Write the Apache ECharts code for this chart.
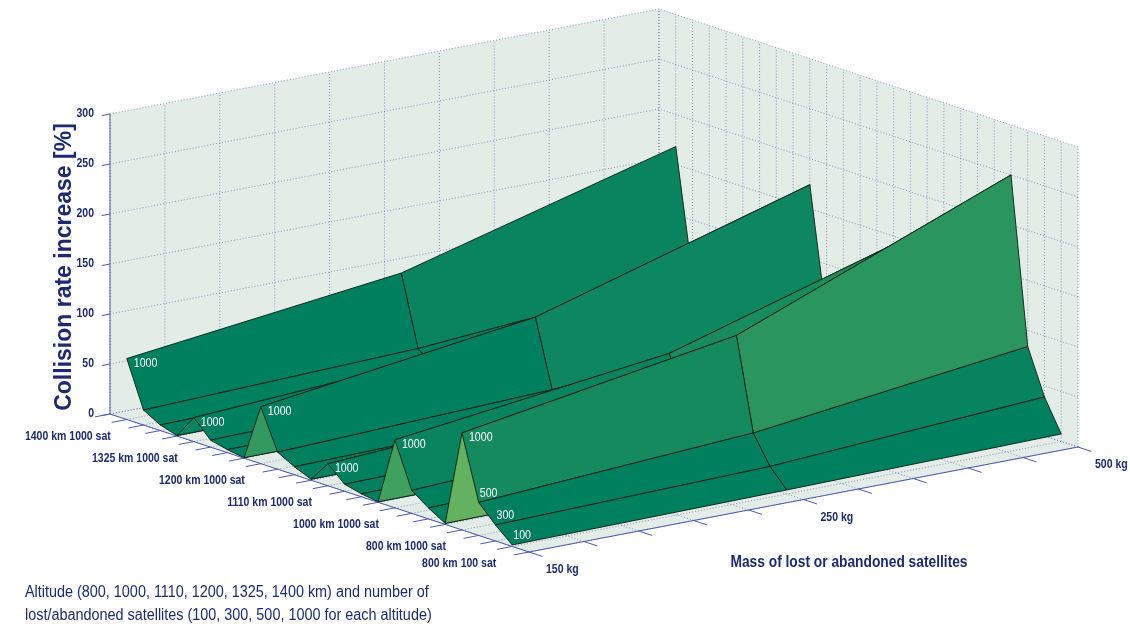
<!DOCTYPE html>
<html>
<head>
<meta charset="utf-8">
<script src="https://cdn.jsdelivr.net/npm/echarts@6/dist/echarts.min.js"></script>
<style>
  html, body { margin: 0; padding: 0; background: #fff; }
  #chart { width: 1130px; height: 630px; }
</style>
</head>
<body>
<div id="chart"></div>
<script>
// ---- data ----
var altitudes = [800, 1000, 1110, 1200, 1325, 1400];
var satCounts = [100, 300, 500, 1000];
var massLabels = ['150 kg', '250 kg', '500 kg'];
// collision rate increase [%], one row per satellite count, columns = 150 / 250 / 500 kg
var rate800  = [[1.5, 4, 7.5], [16, 22, 39], [33, 50, 84], [97, 142, 250]];
var rate1000 = [[1, 3, 5], [11, 16, 28], [23, 36, 61], [68, 102, 183]];
var rate1110 = [[0.5, 1, 2], [3, 5, 8], [7, 11, 19], [22, 38, 66]];
var rate1200 = [[1, 2, 4], [8, 13, 24], [17, 27, 46], [57, 94, 174]];
var rate1325 = [[0.5, 1, 2], [3, 5, 9], [7, 12, 21], [24, 40, 70]];
var rate1400 = [[0.5, 2, 4], [5.6, 10, 18], [15, 24, 45], [61, 94, 168]];
var zTicks = [0, 50, 100, 150, 200, 250, 300];
var altTickRows = [0, 3, 7, 11, 15, 19, 23];
var altTickLabels = ['800 km 100 sat', '800 km 1000 sat', '1000 km 1000 sat', '1110 km 1000 sat',
                     '1200 km 1000 sat', '1325 km 1000 sat', '1400 km 1000 sat'];

// ---- surface grid: row k = altitude * 4 + satellite count, column m = mass ----
var rates = [rate800, rate1000, rate1110, rate1200, rate1325, rate1400];
var Z = [];
rates.forEach(function (r) { r.forEach(function (row) { Z.push(row); }); });
var nK = Z.length, nM = massLabels.length;

// box limits
var kLo = -1, kHi = nK, mLo = 0, mHi = nM - 1, zLo = zTicks[0], zHi = zTicks[zTicks.length - 1];

// fixed view (orthographic): screen offset per unit of k, m and z
var view = { x0: 529, y0: 552, kx: -16.76, ky: -5.52, mx: 274.5, my: -52.5, zy: -1 };
function proj(k, m, z) {
    return [view.x0 + (k - kLo) * view.kx + (m - mLo) * view.mx,
            view.y0 + (k - kLo) * view.ky + (m - mLo) * view.my + z * view.zy];
}
function depth(k, m, z) { return 21.3 * k + 202.5 * m - 0.26 * z; }

// summer colormap, colour taken from the first corner of each face
var cLo = 16, cHi = 222;
function summer(v) {
    var t = Math.max(0, Math.min(1, (v - cLo) / (cHi - cLo)));
    return 'rgb(' + Math.round(255 * t) + ',' + Math.round(255 * (0.5 + 0.5 * t)) + ',95)';
}

var navy = '#1d2a72';
var axisBlue = '#4b58ad';
var font = 'Liberation Sans, Arial, sans-serif';

// ---- box walls ----
var walls = [
    [[kLo, mLo, 0], [kHi, mLo, 0], [kHi, mHi, 0], [kLo, mHi, 0]],
    [[kHi, mLo, zLo], [kHi, mHi, zLo], [kHi, mHi, zHi], [kHi, mLo, zHi]],
    [[kLo, mHi, zLo], [kHi, mHi, zLo], [kHi, mHi, zHi], [kLo, mHi, zHi]]
];

// ---- dotted grid ----
var massTicks = [];
for (var t = 0; t <= 10; t++) massTicks.push(mLo + t * (mHi - mLo) / 10);
var gridSegs = [];
for (var k = kLo; k <= kHi; k++) {
    gridSegs.push([[k, mLo, 0], [k, mHi, 0]]);
    gridSegs.push([[k, mHi, zLo], [k, mHi, zHi]]);
}
massTicks.forEach(function (m) {
    gridSegs.push([[kLo, m, 0], [kHi, m, 0]]);
    gridSegs.push([[kHi, m, zLo], [kHi, m, zHi]]);
});
zTicks.forEach(function (z) {
    gridSegs.push([[kHi, mLo, z], [kHi, mHi, z]]);
    gridSegs.push([[kLo, mHi, z], [kHi, mHi, z]]);
});

// ---- axes and ticks ----
var axisSegs = [
    [[kLo, mLo, 0], [kHi, mLo, 0]],
    [[kLo, mLo, 0], [kLo, mHi, 0]],
    [[kHi, mLo, zLo], [kHi, mLo, zHi]]
];
for (var k2 = kLo; k2 <= kHi; k2++) axisSegs.push([[k2, mLo, 0], [k2, mLo - 0.055, 0]]);
massTicks.forEach(function (m) { axisSegs.push([[kLo, m, 0], [kLo - 0.8, m, 0]]); });
zTicks.forEach(function (z) { axisSegs.push([[kHi, mLo, z], [kHi, mLo - 0.03, z]]); });

// ---- tick labels (anchored at the axis point) ----
var tickTexts = [];
altTickRows.forEach(function (k, i) {
    tickTexts.push({ p: [k, mLo, 0], text: altTickLabels[i], align: 'right', dx: -16, dy: 17 });
});
massLabels.forEach(function (s, i) {
    tickTexts.push({ p: [kLo, i, 0], text: s, align: 'left', dx: 17, dy: 18 });
});
zTicks.forEach(function (z) {
    tickTexts.push({ p: [kHi, mLo, z], text: String(z), align: 'right', dx: -16, dy: 0 });
});

// ---- surface faces, far to near ----
var faces = [];
for (var i = 0; i < nK - 1; i++) {
    for (var j = 0; j < nM - 1; j++) {
        var zAvg = (Z[i][j] + Z[i + 1][j] + Z[i][j + 1] + Z[i + 1][j + 1]) / 4;
        faces.push([i, j, depth(i + 0.5, j + 0.5, zAvg)]);
    }
}
faces.sort(function (a, b) { return b[2] - a[2]; });

// ---- value labels on the 150 kg edge ----
var surfTexts = [];
altitudes.forEach(function (a, ai) {
    surfTexts.push({ k: ai * 4 + 3, text: String(satCounts[3]), dx: 7, dy: 5 });
});
[0, 1, 2].forEach(function (s) {
    surfTexts.push({ k: s, text: String(satCounts[s]), dx: 1, dy: -9 });
});

function lineSeries(segs, style) {
    return {
        type: 'custom', coordinateSystem: 'cartesian2d', silent: true, clip: false,
        data: segs.map(function (s, i) { return [i, 0]; }),
        renderItem: function (params, api) {
            var s = segs[params.dataIndex];
            var a = api.coord(proj(s[0][0], s[0][1], s[0][2]));
            var b = api.coord(proj(s[1][0], s[1][1], s[1][2]));
            return { type: 'line', shape: { x1: a[0], y1: a[1], x2: b[0], y2: b[1] }, style: style };
        }
    };
}

var option = {
    animation: false,
    grid: { left: 0, right: 0, top: 0, bottom: 0 },
    xAxis: { type: 'value', min: 0, max: 1130, show: false },
    yAxis: { type: 'value', min: 0, max: 630, inverse: true, show: false },
    graphic: [
        { type: 'text', x: 65, y: 267, rotation: Math.PI / 2,
          style: { text: 'Collision rate increase [%]', fill: navy, align: 'center', verticalAlign: 'middle',
                   font: 'bold 23px ' + font } },
        { type: 'text', x: 849, y: 563, scaleX: 0.86,
          style: { text: 'Mass of lost or abandoned satellites', fill: navy, align: 'center', verticalAlign: 'middle',
                   font: 'bold 16px ' + font } },
        { type: 'text', x: 25, y: 593, scaleX: 0.9,
          style: { text: 'Altitude (' + altitudes.join(', ') + ' km) and number of', fill: navy,
                   align: 'left', verticalAlign: 'middle', font: '16px ' + font } },
        { type: 'text', x: 25, y: 616, scaleX: 0.9,
          style: { text: 'lost/abandoned satellites (' + satCounts.join(', ') + ' for each altitude)', fill: navy,
                   align: 'left', verticalAlign: 'middle', font: '16px ' + font } }
    ],
    series: [
        {
            type: 'custom', coordinateSystem: 'cartesian2d', silent: true, clip: false,
            data: walls.map(function (w, i) { return [i, 0]; }),
            renderItem: function (params, api) {
                var pts = walls[params.dataIndex].map(function (p) { return api.coord(proj(p[0], p[1], p[2])); });
                return { type: 'polygon', shape: { points: pts }, style: { fill: '#e3ece6', stroke: null } };
            }
        },
        lineSeries(gridSegs, { stroke: 'rgba(60,72,160,0.55)', lineWidth: 1, lineDash: [1, 2] }),
        lineSeries(axisSegs, { stroke: axisBlue, lineWidth: 1 }),
        {
            type: 'custom', coordinateSystem: 'cartesian2d', silent: true, clip: false,
            data: tickTexts.map(function (d, i) { return [i, 0]; }),
            renderItem: function (params, api) {
                var d = tickTexts[params.dataIndex];
                var c = api.coord(proj(d.p[0], d.p[1], d.p[2]));
                return { type: 'text', x: c[0] + d.dx, y: c[1] + d.dy, scaleX: 0.84,
                         style: { text: d.text, fill: navy, align: d.align, verticalAlign: 'middle',
                                  font: 'bold 12.5px ' + font } };
            }
        },
        {
            type: 'custom', coordinateSystem: 'cartesian2d', silent: true, clip: false,
            data: faces,
            renderItem: function (params, api) {
                var k = api.value(0), m = api.value(1);
                var pts = [[k, m], [k + 1, m], [k + 1, m + 1], [k, m + 1]].map(function (c) {
                    return api.coord(proj(c[0], c[1], Z[c[0]][c[1]]));
                });
                return { type: 'polygon', shape: { points: pts },
                         style: { fill: summer(Z[k][m]), stroke: '#0a1e12', lineWidth: 0.9, lineJoin: 'round' } };
            }
        },
        {
            type: 'custom', coordinateSystem: 'cartesian2d', silent: true, clip: false,
            data: surfTexts.map(function (d, i) { return [i, 0]; }),
            renderItem: function (params, api) {
                var d = surfTexts[params.dataIndex];
                var c = api.coord(proj(d.k, mLo, Z[d.k][0]));
                return { type: 'text', x: c[0] + d.dx, y: c[1] + d.dy, scaleX: 0.85,
                         style: { text: d.text, fill: '#ffffff', align: 'left', verticalAlign: 'middle',
                                  font: '12.5px ' + font } };
            }
        }
    ]
};

var chart = echarts.init(document.getElementById('chart'));
chart.setOption(option);
</script>
</body>
</html>
